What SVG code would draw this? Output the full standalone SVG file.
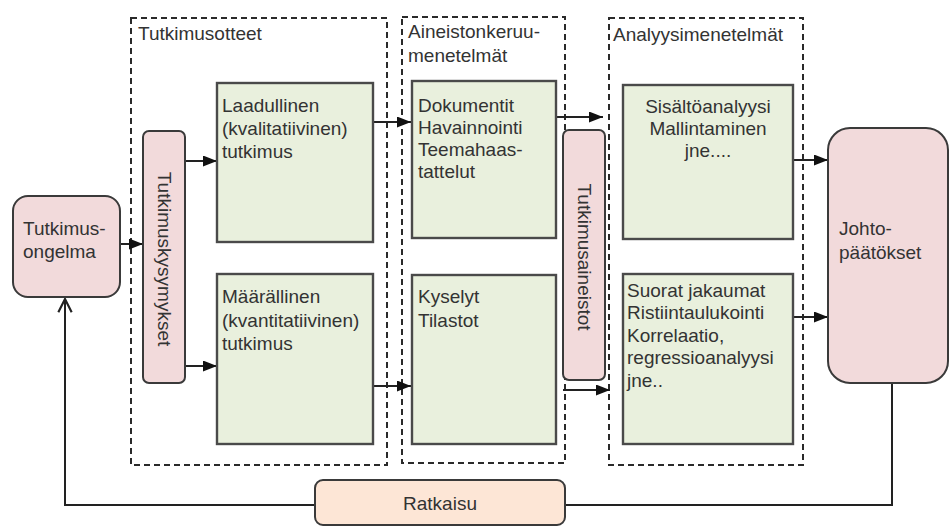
<svg xmlns="http://www.w3.org/2000/svg" width="950" height="527" viewBox="0 0 950 527">
  <defs>
    <marker id="arrow" viewBox="0 0 14 11" refX="14" refY="5.5" markerWidth="14" markerHeight="11" markerUnits="userSpaceOnUse" orient="auto">
      <path d="M0,0 L14,5.5 L0,11 z" fill="#111"/>
    </marker>
    <marker id="open" viewBox="0 0 12 12" refX="11" refY="6" markerWidth="16" markerHeight="16" markerUnits="userSpaceOnUse" orient="auto">
      <path d="M1,1 L11,6 L1,11" fill="none" stroke="#222" stroke-width="1.6"/>
    </marker>
    <style>
      .frame { fill: none; stroke: #2a2a2a; stroke-width: 2; stroke-dasharray: 6 4; }
      .pink { fill: #f2dadb; stroke: #3a3a3a; stroke-width: 2; }
      .green { fill: #e9f0dd; stroke: #4a4a4a; stroke-width: 2.4; }
      .peach { fill: #fde6d6; stroke: #3a3a3a; stroke-width: 2; }
      .wire { fill: none; stroke: #222; stroke-width: 2; }
      .arr { marker-end: url(#arrow); }
      text { font-family: "Liberation Sans", Arial, sans-serif; font-size: 19px; fill: #333; }
    </style>
  </defs>
  <rect width="950" height="527" fill="#fff"/>

  <!-- dashed section frames -->
  <g id="frame-tutkimusotteet">
    <rect class="frame" x="131" y="18" width="256" height="447"/>
    <text x="138" y="40">Tutkimusotteet</text>
  </g>
  <g id="frame-aineistonkeruu">
    <rect class="frame" x="402" y="17" width="163" height="446"/>
    <text x="408" y="38">Aineistonkeruu-</text>
    <text x="408" y="62">menetelmät</text>
  </g>
  <g id="frame-analyysi">
    <rect class="frame" x="609" y="18" width="194" height="447"/>
    <text x="613" y="41">Analyysimenetelmät</text>
  </g>

  <!-- connectors -->
  <g id="connectors">
    <line class="wire arr" x1="120" y1="244" x2="143" y2="244"/>
    <line class="wire arr" x1="185" y1="161" x2="217" y2="161"/>
    <line class="wire arr" x1="185" y1="366" x2="217" y2="366"/>
    <line class="wire arr" x1="373" y1="122" x2="411" y2="122"/>
    <line class="wire arr" x1="373" y1="386" x2="411" y2="386"/>
    <line class="wire arr" x1="556" y1="117" x2="603" y2="117"/>
    <line class="wire arr" x1="563" y1="390" x2="610" y2="390"/>
    <line class="wire arr" x1="793" y1="160" x2="828" y2="160"/>
    <line class="wire arr" x1="793" y1="317" x2="828" y2="317"/>
    <polyline class="wire" points="892,383 892,505 565,505"/>
    <polyline class="wire" points="315,505 65,505 65,299" marker-end="url(#open)"/>
  </g>

  <g id="tutkimusongelma">
    <rect class="pink" x="13" y="196" width="107" height="101" rx="15"/>
    <text x="23" y="235">Tutkimus-</text>
    <text x="23" y="258">ongelma</text>
  </g>

  <g id="tutkimuskysymykset">
    <rect class="pink" x="143" y="131" width="42" height="252" rx="6"/>
    <text x="164" y="259" text-anchor="middle" dominant-baseline="central" transform="rotate(90 164 259)">Tutkimuskysymykset</text>
  </g>

  <g id="laadullinen">
    <rect class="green" x="217" y="83" width="156" height="159"/>
    <text x="222" y="112">Laadullinen</text>
    <text x="222" y="135">(kvalitatiivinen)</text>
    <text x="222" y="158">tutkimus</text>
  </g>

  <g id="maarallinen">
    <rect class="green" x="217" y="274" width="156" height="170"/>
    <text x="222" y="303">Määrällinen</text>
    <text x="222" y="327">(kvantitatiivinen)</text>
    <text x="222" y="350">tutkimus</text>
  </g>

  <g id="dokumentit">
    <rect class="green" x="412" y="81" width="144" height="157"/>
    <text x="418" y="112">Dokumentit</text>
    <text x="418" y="134">Havainnointi</text>
    <text x="418" y="156">Teemahaas-</text>
    <text x="418" y="178">tattelut</text>
  </g>

  <g id="kyselyt">
    <rect class="green" x="412" y="275" width="144" height="169"/>
    <text x="418" y="303">Kyselyt</text>
    <text x="418" y="327">Tilastot</text>
  </g>

  <g id="tutkimusaineistot">
    <rect class="pink" x="563" y="130" width="42" height="250" rx="6"/>
    <text x="584" y="257" text-anchor="middle" dominant-baseline="central" transform="rotate(90 584 257)">Tutkimusaineistot</text>
  </g>

  <g id="sisaltoanalyysi">
    <rect class="green" x="623" y="85" width="170" height="154"/>
    <text x="708" y="113" text-anchor="middle">Sisältöanalyysi</text>
    <text x="708" y="135" text-anchor="middle">Mallintaminen</text>
    <text x="708" y="157" text-anchor="middle">jne....</text>
  </g>

  <g id="suorat">
    <rect class="green" x="623" y="274" width="170" height="170"/>
    <text x="627" y="297">Suorat jakaumat</text>
    <text x="627" y="319">Ristiintaulukointi</text>
    <text x="627" y="342">Korrelaatio,</text>
    <text x="627" y="364">regressioanalyysi</text>
    <text x="627" y="387">jne..</text>
  </g>

  <g id="johtopaatokset">
    <rect class="pink" x="828" y="128" width="120" height="255" rx="22"/>
    <text x="839" y="235">Johto-</text>
    <text x="839" y="259">päätökset</text>
  </g>

  <g id="ratkaisu">
    <rect class="peach" x="315" y="480" width="250" height="45" rx="8"/>
    <text x="440" y="510" text-anchor="middle">Ratkaisu</text>
  </g>
</svg>
